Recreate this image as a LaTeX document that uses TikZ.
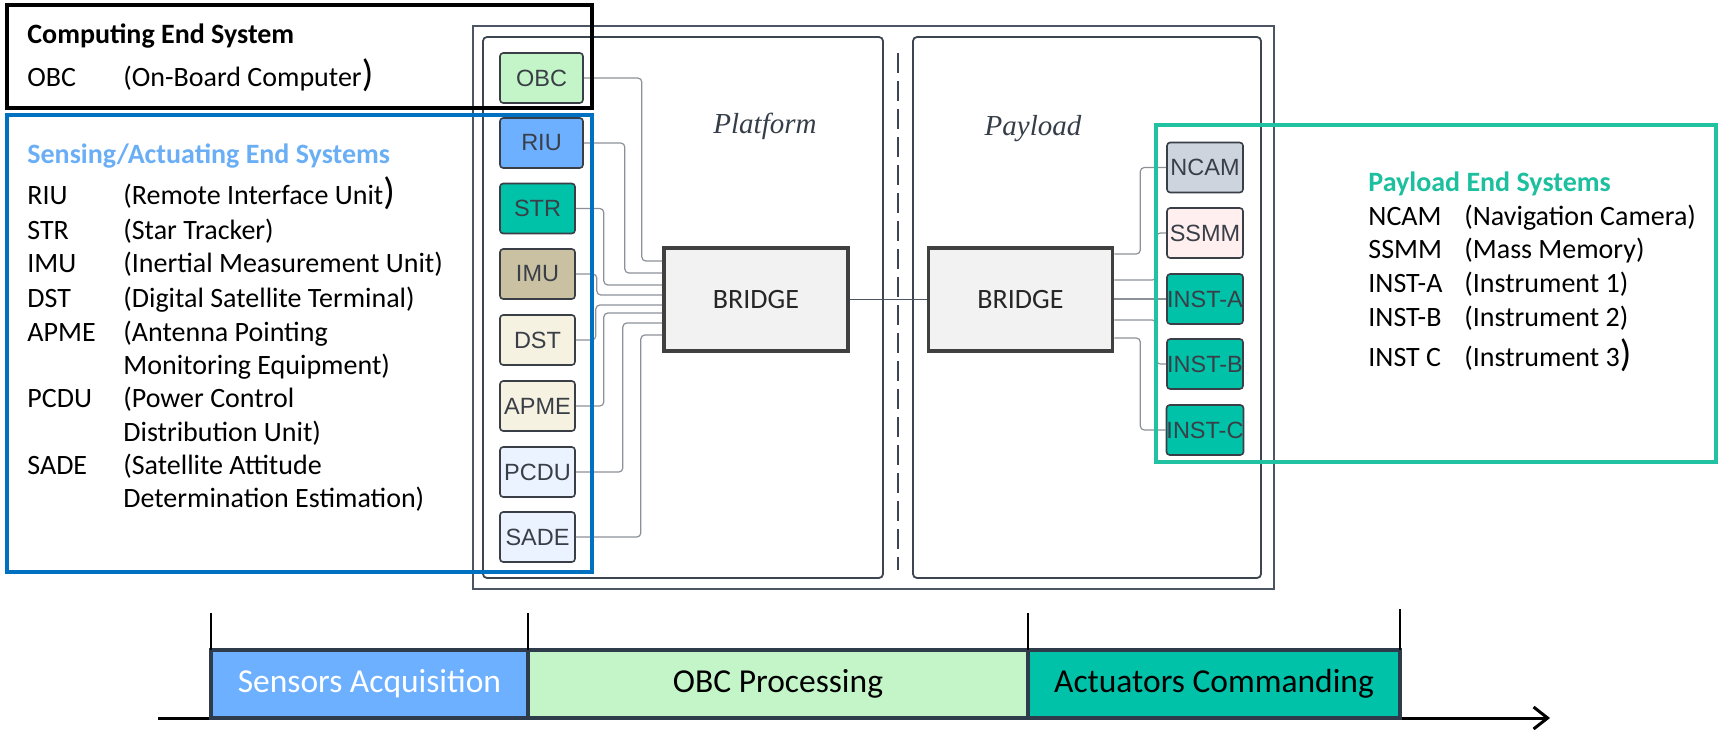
\documentclass[tikz,border=0pt]{standalone}
\usepackage{fontspec}
\setmainfont{Carlito}
\newfontfamily\unitfont{Liberation Sans}
\newfontfamily\areafont{Liberation Serif}
\usetikzlibrary{calc,arrows.meta}

\definecolor{frameline}{HTML}{4B5563}
\definecolor{arealine}{HTML}{3D4550}
\definecolor{areatext}{HTML}{353E48}
\definecolor{unitline}{HTML}{3A3F47}
\definecolor{unittext}{HTML}{3A3F47}
\definecolor{wiregray}{HTML}{8C9198}
\definecolor{obcfill}{HTML}{C3F5C8}
\definecolor{riufill}{HTML}{6CB0FF}
\definecolor{tealfill}{HTML}{00C2A8}
\definecolor{imufill}{HTML}{C9C1A2}
\definecolor{creamfill}{HTML}{F5F2E1}
\definecolor{icefill}{HTML}{EAF3FF}
\definecolor{ncamfill}{HTML}{CED4DD}
\definecolor{ssmmfill}{HTML}{FFEFEF}
\definecolor{bridgefill}{HTML}{F2F2F2}
\definecolor{bridgeline}{HTML}{404040}
\definecolor{sensblue}{HTML}{0070C0}
\definecolor{senstitle}{HTML}{6AAEF5}
\definecolor{payframe}{HTML}{20C2A2}
\definecolor{paytitle}{HTML}{1CBF9E}
\definecolor{segline}{HTML}{2D3B4A}

% closing parenthesis set one size larger
\newcommand{\bigclose}{{\fontsize{19}{19}\selectfont)}}

\begin{document}
\begin{tikzpicture}[x=0.5pt,y=-0.5pt,
  unit/.style={draw=unitline, line width=0.8pt, rounded corners=1.6pt, inner sep=0pt,
    minimum height=25pt, text=unittext, font=\unitfont\fontsize{11.75}{14}\selectfont},
  wideunit/.style={unit, minimum width=41.5pt},
  narrowunit/.style={unit, minimum width=37.5pt},
  payunit/.style={unit, minimum width=38pt},
  bridge/.style={draw=bridgeline, fill=bridgefill, line width=1.8pt, minimum width=92pt,
    minimum height=51.5pt, inner sep=0pt, font=\fontsize{14}{16}\selectfont, text=black!85},
  wire/.style={draw=wiregray, line width=0.6pt, rounded corners=2pt},
  link/.style={draw=frameline, line width=0.7pt},
  areabox/.style={draw=arealine, line width=0.9pt, rounded corners=2pt},
  arealabel/.style={anchor=base, inner sep=0pt, text=areatext,
    font=\areafont\itshape\fontsize{14.5}{16}\selectfont},
  legend/.style={anchor=base west, inner sep=0pt, font=\fontsize{14}{16}\selectfont},
  groupframe/.style={line width=2pt},
  seg/.style={draw=segline, line width=2pt, minimum height=34pt, inner sep=0pt, outer sep=0pt,
    font=\fontsize{16.75}{18}\selectfont},
  tick/.style={draw=black, line width=0.6pt},
  timeaxis/.style={draw=black, line width=1.5pt, -{Straight Barb[length=7pt,width=11pt]}}
]
\useasboundingbox (0,0) rectangle (1719,729);

% system enclosure with platform and payload areas
\draw[draw=frameline, line width=0.7pt] (473,26) rectangle (1274,589);
\draw[areabox] (483,37) rectangle (883,578);
\draw[areabox] (913,37) rectangle (1261,578);
\draw[draw=arealine, line width=0.8pt, dash pattern=on 10pt off 4pt] (898,53) -- (898,570);
\node[arealabel] (platformLbl) at (765,133) {Platform};
\node[arealabel] (payloadLbl) at (1033,135) {Payload};

% platform units
\node[wideunit, fill=obcfill] (obc) at (541.5,78) {OBC};
\node[wideunit, fill=riufill] (riu) at (541.5,143) {RIU};
\node[narrowunit, fill=tealfill] (str) at (537.5,208.5) {STR};
\node[narrowunit, fill=imufill] (imu) at (537.5,274) {IMU};
\node[narrowunit, fill=creamfill] (dst) at (537.5,340) {DST};
\node[narrowunit, fill=creamfill] (apme) at (537.5,406) {APME};
\node[narrowunit, fill=icefill] (pcdu) at (537.5,472) {PCDU};
\node[narrowunit, fill=icefill] (sade) at (537.5,537) {SADE};

% payload units
\node[payunit, fill=ncamfill] (ncam) at (1205,167.5) {NCAM};
\node[payunit, fill=ssmmfill] (ssmm) at (1205,233) {SSMM};
\node[payunit, fill=tealfill] (insta) at (1205,299) {INST-A};
\node[payunit, fill=tealfill] (instb) at (1205,364) {INST-B};
\node[payunit, fill=tealfill] (instc) at (1205,430) {INST-C};

% bridges
\node[bridge] (brL) at (756,299.5) {BRIDGE};
\node[bridge] (brR) at (1020.5,299.5) {BRIDGE};
\draw[link] (brL.east) -- (brR.west);

% platform wiring
\draw[wire] (obc.east) -- ++(58,0) |- ($(brL.west)+(0,-38.5)$);
\draw[wire] (riu.east) -- ++(41,0) |- ($(brL.west)+(0,-26.5)$);
\draw[wire] (str.east) -- ++(28,0) |- ($(brL.west)+(0,-14.5)$);
\draw[wire] (imu.east) -- ++(21,0) |- ($(brL.west)+(0,-4.5)$);
\draw[wire] (dst.east) -- ++(20,0) |- ($(brL.west)+(0,5.5)$);
\draw[wire] (apme.east) -- ++(28,0) |- ($(brL.west)+(0,13.5)$);
\draw[wire] (pcdu.east) -- ++(47,0) |- ($(brL.west)+(0,23.5)$);
\draw[wire] (sade.east) -- ++(65,0) |- ($(brL.west)+(0,35.5)$);

% payload wiring
\draw[wire] ($(brR.east)+(0,-45.5)$) -- ++(26,0) |- (ncam.west);
\draw[wire] ($(brR.east)+(0,-19.5)$) -- ++(42,0) |- (ssmm.west);
\draw[wire] (insta.west -| brR.east) -- (insta.west);
\draw[wire] ($(brR.east)+(0,20.5)$) -- ++(42,0) |- (instb.west);
\draw[wire] ($(brR.east)+(0,38.5)$) -- ++(26,0) |- (instc.west);

% end-system groups
\draw[groupframe, draw=black] (7,5) rectangle (592,108);
\draw[groupframe, draw=sensblue] (7,115) rectangle (592,572);
\draw[groupframe, draw=payframe] (1156,125) rectangle (1716,462);

% computing end system legend
\node[legend] (ceTitle) at (27,43) {\bfseries Computing End System};
\node[legend] (obcAb) at (27,86) {OBC};
\node[legend] (obcDe) at (123,86) {(On-Board Computer\bigclose};

% sensing / actuating legend
\node[legend, text=senstitle] (seTitle) at (27,163) {\bfseries Sensing/Actuating End Systems};
\node[legend] (riuAb) at (27,204) {RIU};
\node[legend] (riuDe) at (123,204) {(Remote Interface Unit\bigclose};
\node[legend] (strAb) at (27,239) {STR};
\node[legend] (strDe) at (123,239) {(Star Tracker)};
\node[legend] (imuAb) at (27,272) {IMU};
\node[legend] (imuDe) at (123,272) {(Inertial Measurement Unit)};
\node[legend] (dstAb) at (27,307) {DST};
\node[legend] (dstDe) at (123,307) {(Digital Satellite Terminal)};
\node[legend] (apmeAb) at (27,341) {APME};
\node[legend] (apmeDe) at (123,341) {(Antenna Pointing};
\node[legend] (apmeDeB) at (123,374) {Monitoring Equipment)};
\node[legend] (pcduAb) at (27,407) {PCDU};
\node[legend] (pcduDe) at (123,407) {(Power Control};
\node[legend] (pcduDeB) at (123,441) {Distribution Unit)};
\node[legend] (sadeAb) at (27,474) {SADE};
\node[legend] (sadeDe) at (123,474) {(Satellite Attitude};
\node[legend] (sadeDeB) at (123,507) {Determination Estimation)};

% payload legend
\node[legend, text=paytitle] (peTitle) at (1368,191) {\bfseries Payload End Systems};
\node[legend] (ncamAb) at (1368,225) {NCAM};
\node[legend] (ncamDe) at (1464,225) {(Navigation Camera)};
\node[legend] (ssmmAb) at (1368,258) {SSMM};
\node[legend] (ssmmDe) at (1464,258) {(Mass Memory)};
\node[legend] (instaAb) at (1368,292) {INST-A};
\node[legend] (instaDe) at (1464,292) {(Instrument 1)};
\node[legend] (instbAb) at (1368,326) {INST-B};
\node[legend] (instbDe) at (1464,326) {(Instrument 2)};
\node[legend] (instcAb) at (1368,366) {INST C};
\node[legend] (instcDe) at (1464,366) {(Instrument 3\bigclose};

% timeline
\coordinate (axisStart) at (158,718);
\coordinate (axisEnd) at (1550,718);
\draw[timeaxis] (axisStart) -- (axisEnd);
\node[seg, fill=riufill, text=white, minimum width=158.5pt] (sa) at (369.5,684) {Sensors Acquisition};
\node[seg, fill=obcfill, minimum width=250pt] (op) at (778,684) {OBC Processing};
\node[seg, fill=tealfill, minimum width=186pt] (ac) at (1214,684) {Actuators Commanding};
\draw[tick] (sa.north west) -- ++(0,-37);
\draw[tick] (sa.north east) -- ++(0,-37);
\draw[tick] (op.north east) -- ++(0,-37);
\draw[tick] (ac.north east) -- ++(0,-41);
\end{tikzpicture}
\end{document}
